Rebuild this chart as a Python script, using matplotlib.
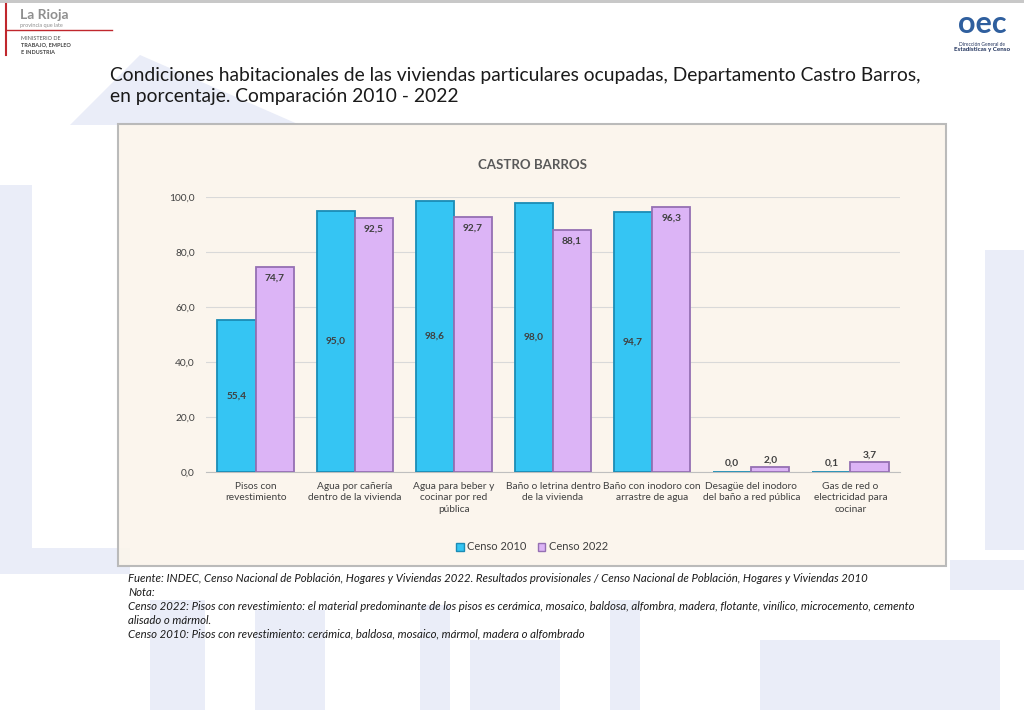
"""
Condiciones habitacionales - Castro Barros, 2010 vs 2022
"""

import matplotlib.pyplot as plt
import numpy as np
from matplotlib.patches import Rectangle, Patch, Polygon
from matplotlib.ticker import FuncFormatter

plt.rcParams['font.family'] = ['Lato', 'DejaVu Sans']

categorias = [
    'Pisos con\nrevestimiento',
    'Agua por cañería\ndentro de la vivienda',
    'Agua para beber y\ncocinar por red\npública',
    'Baño o letrina dentro\nde la vivienda',
    'Baño con inodoro con\narrastre de agua',
    'Desagüe del inodoro\ndel baño a red pública',
    'Gas de red o\nelectricidad para\ncocinar',
]
censo_2010 = [55.4, 95.0, 98.6, 98.0, 94.7, 0.0, 0.1]
censo_2022 = [74.7, 92.5, 92.7, 88.1, 96.3, 2.0, 3.7]
series = ['Censo 2010', 'Censo 2022']

titulo = ('Condiciones habitacionales de las viviendas particulares ocupadas, Departamento Castro Barros,\n'
          'en porcentaje. Comparación 2010 - 2022')
notas = [
    'Fuente: INDEC, Censo Nacional de Población, Hogares y Viviendas 2022. Resultados provisionales / Censo Nacional de Población, Hogares y Viviendas 2010',
    'Nota:',
    'Censo 2022: Pisos con revestimiento: el material predominante de los pisos es cerámica, mosaico, baldosa, alfombra, madera, flotante, vinílico, microcemento, cemento',
    'alisado o mármol.',
    'Censo 2010: Pisos con revestimiento: cerámica, baldosa, mosaico, mármol, madera o alfombrado',
]

AZUL = '#35c5f3'
AZUL_BORDE = '#1b8cb5'
LILA = '#dcb4f6'
LILA_BORDE = '#9570b3'
GRIS = '#404040'

W, H = 1024, 710


def fx(px):
    return px / W


def fy(py):
    return 1 - py / H


fig = plt.figure(figsize=(10.24, 7.1), dpi=100)
fig.patch.set_facecolor('white')

# marca de agua de fondo (formas celestes tenues)
wm = '#eaedf8'
formas = [
    (0, 185, 32, 380), (0, 548, 130, 26), (150, 600, 55, 110), (255, 610, 70, 100),
    (420, 605, 30, 105), (470, 640, 90, 70), (760, 640, 240, 70), (985, 250, 39, 300),
    (950, 560, 74, 30), (610, 600, 30, 110),
]
for x0, y0, w, h in formas:
    fig.add_artist(Rectangle((fx(x0), fy(y0 + h)), fx(w), h / H, transform=fig.transFigure,
                             facecolor=wm, edgecolor='none', zorder=0))
fig.add_artist(Polygon([(fx(70), fy(125)), (fx(140), fy(55)), (fx(300), fy(125))],
                       closed=True, transform=fig.transFigure, facecolor=wm, edgecolor='none', zorder=0))

# bordes grises del slide
fig.add_artist(Rectangle((0, fy(3)), 1, 3 / H, transform=fig.transFigure,
                         facecolor='#c8c8c8', edgecolor='none', zorder=1))

# logo izquierdo
fig.add_artist(plt.Line2D([fx(6), fx(6)], [fy(4), fy(55)], transform=fig.transFigure,
                          color='#c0272d', lw=1.5, zorder=2))
fig.add_artist(plt.Line2D([fx(6), fx(112)], [fy(30), fy(30)], transform=fig.transFigure,
                          color='#c0272d', lw=1, zorder=2))
fig.text(fx(20), fy(15), 'La Rioja', fontsize=10, fontweight='bold', color='#8f8f8f', va='center')
fig.text(fx(20), fy(25), 'provincia que late', fontsize=4, color='#8f8f8f', va='center')
fig.text(fx(21), fy(38), 'MINISTERIO DE', fontsize=4, color='#555555', va='center')
fig.text(fx(21), fy(45), 'TRABAJO, EMPLEO', fontsize=4, color='#444444', fontweight='bold', va='center')
fig.text(fx(21), fy(52), 'E INDUSTRIA', fontsize=4, color='#444444', fontweight='bold', va='center')

# logo derecho
fig.text(fx(982), fy(24), 'oec', fontsize=22, fontweight='bold', color='#2f5f9e', ha='center', va='center')
fig.text(fx(982), fy(44), 'Dirección General de', fontsize=3.5, color='#1d2f5a', ha='center', va='center')
fig.text(fx(982), fy(50), 'Estadísticas y Censo', fontsize=4.5, fontweight='bold', color='#1d2f5a',
         ha='center', va='center')

# titulo principal
fig.text(fx(110), fy(86), titulo, fontsize=13.9, color='#1a1a1a', va='center', ha='left', linespacing=1.35)

# panel del grafico
fig.add_artist(Rectangle((fx(118), fy(566)), fx(946 - 118), (566 - 124) / H, transform=fig.transFigure,
                         facecolor='#fbf5ec', edgecolor='#b5b5b5', lw=1.5, alpha=0.92, zorder=2))
fig.text(fx(532), fy(165), 'CASTRO BARROS', fontsize=9.5, fontweight='bold', color='#595959',
         ha='center', va='center', zorder=4)

ax = fig.add_axes([fx(206), fy(472), fx(900 - 206), (472 - 197) / H])
ax.set_zorder(3)
ax.patch.set_alpha(0)

x = np.arange(len(categorias))
width = 0.385

bars1 = ax.bar(x - width / 2, censo_2010, width, color=AZUL, edgecolor=AZUL_BORDE, lw=1.3, zorder=3)
bars2 = ax.bar(x + width / 2, censo_2022, width, color=LILA, edgecolor=LILA_BORDE, lw=1.3, zorder=3)

# etiquetas de datos
for b, v in zip(bars1, censo_2010):
    txt = f'{v:.1f}'.replace('.', ',')
    if v < 10:
        ax.text(b.get_x() + b.get_width() / 2, v + 1.5, txt, ha='center', va='bottom',
                fontsize=7.3, fontweight='bold', color=GRIS)
    else:
        ax.text(b.get_x() + b.get_width() / 2, v / 2, txt, ha='center', va='center',
                fontsize=7.3, fontweight='bold', color=GRIS)
for b, v in zip(bars2, censo_2022):
    txt = f'{v:.1f}'.replace('.', ',')
    if v < 10:
        ax.text(b.get_x() + b.get_width() / 2, v + 0.8, txt, ha='center', va='bottom',
                fontsize=7.3, fontweight='bold', color=GRIS)
    else:
        ax.text(b.get_x() + b.get_width() / 2, v - 2.5, txt, ha='center', va='top',
                fontsize=7.3, fontweight='bold', color=GRIS)

ax.set_xlim(-0.5, len(categorias) - 0.5)
ax.set_ylim(0, 100)
ax.set_yticks(np.arange(0, 101, 20))
ax.yaxis.set_major_formatter(FuncFormatter(lambda v, p: f'{v:.1f}'.replace('.', ',')))
ax.set_xticks(x)
ax.set_xticklabels(categorias, fontsize=7.3, color=GRIS, linespacing=1.35)
ax.tick_params(axis='both', length=0, labelsize=7.3, colors=GRIS)
ax.tick_params(axis='x', pad=7)
ax.tick_params(axis='y', pad=8)
ax.grid(axis='y', color='#d9d9d9', lw=0.8, zorder=0)
for s in ['top', 'right', 'left']:
    ax.spines[s].set_visible(False)
ax.spines['bottom'].set_color('#bfbfbf')

handles = [Patch(facecolor=AZUL, edgecolor=AZUL_BORDE), Patch(facecolor=LILA, edgecolor=LILA_BORDE)]
leg = fig.legend(handles, series, loc='center', bbox_to_anchor=(fx(532), fy(547)), ncol=2,
                 frameon=False, fontsize=8, handlelength=0.7, handleheight=0.7,
                 handletextpad=0.3, columnspacing=1.0)
leg.set_zorder(4)
for t in leg.get_texts():
    t.set_color(GRIS)

# fuente y notas
for i, linea in enumerate(notas):
    fig.text(fx(128), fy(578 + i * 14), linea, fontsize=8.2, style='italic', color='#1a1a1a',
             va='center', ha='left')

fig.savefig('out.png', dpi=100)
